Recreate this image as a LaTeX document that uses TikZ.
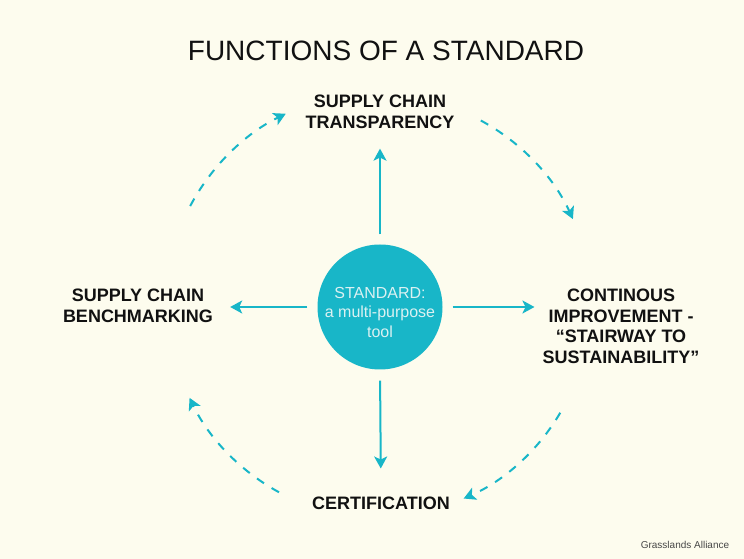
\documentclass[tikz,border=0pt]{standalone}
\usepackage{fontspec}
\setmainfont{Liberation Sans}
\usetikzlibrary{arrows.meta,calc}
\definecolor{paper}{RGB}{253,252,238}
\definecolor{stdcyan}{RGB}{24,182,200}
\definecolor{stdtext}{RGB}{218,241,242}
\definecolor{ink}{RGB}{17,17,17}
\begin{document}
\begin{tikzpicture}[x=1pt,y=1pt,
  tip/.style={-{Stealth[length=12pt,width=13pt,inset=3pt]}},
  flow/.style={draw=stdcyan, line width=2pt, tip},
  cyclearc/.style={draw=stdcyan, line width=2pt, dash pattern=on 8.5pt off 9pt, tip},
  func/.style={font=\bfseries\fontsize{18}{20.5}\selectfont, align=center, inner sep=0pt, text=ink, anchor=north}]

% paper
\fill[paper] (0,0) rectangle (744,559);
\useasboundingbox (0,0) rectangle (744,559);

% heading
\node[font=\fontsize{28}{32}\selectfont, inner sep=0pt, text=ink] (title) at (386,508) {FUNCTIONS OF A STANDARD};

% central disc
\node[circle, fill=stdcyan, minimum size=125pt, inner sep=0pt] (std) at (380,252) {};
\node[font=\fontsize{16}{19.5}\selectfont, text=stdtext, align=center, inner sep=0pt, anchor=north] (stdlabel) at (380,272.3) {STANDARD:\\a multi-purpose\\tool};

% the four functions
\node[func] (top) at (380,464) {SUPPLY CHAIN\\TRANSPARENCY};
\node[func] (left) at (138,270) {SUPPLY CHAIN\\BENCHMARKING};
\node[func] (right) at (621,270) {CONTINOUS\\IMPROVEMENT -\\“STAIRWAY TO\\SUSTAINABILITY”};
\node[func] (bottom) at (381,62.5) {CERTIFICATION};

% radiating arrows
\draw[flow, shorten <=10pt, shorten >=20pt] (std.north) -- (top.south);
\draw[flow, shorten <=10pt, shorten >=17pt] (std.west) -- (std.west -| left.east);
\draw[flow, shorten <=10pt, shorten >=8pt] (std.east) -- (std.east -| right.west);
\draw[flow, shorten <=11pt, shorten >=28pt] (std.south) -- (bottom.north);

% clockwise dashed cycle
\coordinate (tl) at ($(std.center)+(152:215)$);
\coordinate (tr) at ($(std.center)+(61.6:212)$);
\coordinate (br) at ($(std.center)+(-30.4:209)$);
\coordinate (bl) at ($(std.center)+(241.4:211)$);
\draw[cyclearc] (tl) arc[start angle=152, end angle=116, radius=215pt];
\draw[cyclearc] (tr) arc[start angle=61.6, end angle=24.5, radius=212pt];
\draw[cyclearc] (br) arc[start angle=-30.4, end angle=-66.4, radius=209pt];
\draw[cyclearc] (bl) arc[start angle=241.4, end angle=205.5, radius=211pt];

% credit
\node[font=\fontsize{10}{12}\selectfont, text=black!72, inner sep=0pt] (credit) at (685,14) {Grasslands Alliance};
\end{tikzpicture}
\end{document}
